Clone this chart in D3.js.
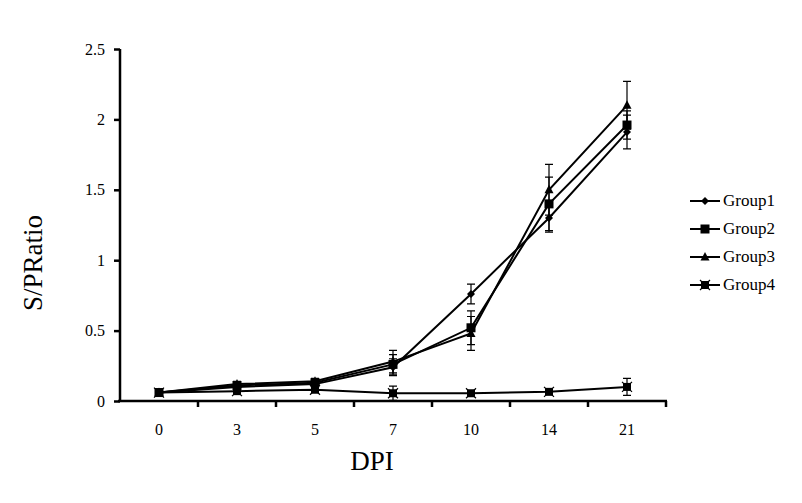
<!DOCTYPE html>
<html><head><meta charset="utf-8">
<script src="https://cdn.jsdelivr.net/npm/d3@7"></script>
<style>body{margin:0;background:#fff}svg{display:block}</style>
</head><body>
<svg id="c" width="802" height="503"></svg>
<script>
const categories = ["0","3","5","7","10","14","21"];
const yTicks = [0,0.5,1,1.5,2,2.5];
const seriesNames = ["Group1","Group2","Group3","Group4"];
const group1 = [0.06,0.10,0.12,0.24,0.76,1.30,1.91];
const group2 = [0.06,0.11,0.13,0.26,0.52,1.40,1.96];
const group3 = [0.06,0.12,0.14,0.28,0.48,1.50,2.10];
const group4 = [0.06,0.07,0.08,0.055,0.055,0.065,0.10];
const err1 = [0.01,0.02,0.02,0.06,0.07,0.10,0.12];
const err2 = [0.01,0.02,0.02,0.07,0.12,0.19,0.10];
const err3 = [0.01,0.02,0.02,0.08,0.12,0.18,0.17];
const err4 = [0.01,0.01,0.01,0.05,0.01,0.01,0.06];

const series = [
  {name:seriesNames[0], v:group1, e:err1, sym:"diamond"},
  {name:seriesNames[1], v:group2, e:err2, sym:"square"},
  {name:seriesNames[2], v:group3, e:err3, sym:"triangle"},
  {name:seriesNames[3], v:group4, e:err4, sym:"xsquare"}
];

const svg = d3.select("#c");
const x = d3.scaleBand().domain(categories).range([120,666]);
const y = d3.scaleLinear().domain([0,2.5]).range([401,49]);
const font = "'Liberation Serif','Times New Roman',serif";

// y axis
const ya = svg.append("g").attr("transform","translate(120,0)")
  .call(d3.axisLeft(y).tickValues(yTicks).tickSize(6).tickPadding(9).tickFormat(d=>d3.format("")(d)));
ya.select(".domain").attr("stroke","#000").attr("stroke-width",2.5).attr("d","M0,49V401");
ya.selectAll(".tick line").attr("stroke","#000").attr("stroke-width",2.5);
ya.selectAll("text").attr("font-family",font).attr("font-size",16).attr("fill","#000");

// x axis
const xa = svg.append("g").attr("transform","translate(0,401)");
xa.append("line").attr("x1",118).attr("x2",667).attr("y1",0).attr("y2",0).attr("stroke","#000").attr("stroke-width",2.5);
const bounds = categories.map(c=>x(c)+x.bandwidth());
xa.selectAll("line.t").data(bounds).join("line").attr("class","t")
  .attr("x1",d=>d).attr("x2",d=>d).attr("y1",0).attr("y2",6).attr("stroke","#000").attr("stroke-width",2.5);
xa.selectAll("text").data(categories).join("text")
  .attr("x",d=>x(d)+x.bandwidth()/2).attr("y",34).attr("text-anchor","middle")
  .attr("font-family",font).attr("font-size",16).text(d=>d);

// titles
svg.append("text").attr("transform","translate(42,263) rotate(-90)").attr("text-anchor","middle")
  .attr("font-family",font).attr("font-size",27).text("S/PRatio");
svg.append("text").attr("x",372).attr("y",470).attr("text-anchor","middle")
  .attr("font-family",font).attr("font-size",27).text("DPI");

const cx = c=>x(c)+x.bandwidth()/2;
const line = d3.line().x((d,i)=>cx(categories[i])).y(d=>y(d));

function drawSym(g, sym, px, py){
  if(sym==="diamond") g.append("path").attr("d",`M${px},${py-4}L${px+4},${py}L${px},${py+4}L${px-4},${py}Z`).attr("fill","#000");
  else if(sym==="square") g.append("rect").attr("x",px-4.5).attr("y",py-4.5).attr("width",9).attr("height",9).attr("fill","#000");
  else if(sym==="triangle") g.append("path").attr("d",`M${px},${py-5}L${px+4.5},${py+3.5}L${px-4.5},${py+3.5}Z`).attr("fill","#000");
  else { g.append("rect").attr("x",px-4).attr("y",py-4).attr("width",8).attr("height",8).attr("fill","#000");
         g.append("path").attr("d",`M${px-5},${py-5}L${px+5},${py+5}M${px+5},${py-5}L${px-5},${py+5}`).attr("stroke","#000").attr("stroke-width",1.2); }
}

series.forEach(s=>{
  const g = svg.append("g");
  s.v.forEach((v,i)=>{
    const px = cx(categories[i]);
    const t = y(v+s.e[i]), b = y(Math.max(0,v-s.e[i]));
    g.append("path").attr("d",`M${px},${t}V${b}M${px-4},${t}H${px+4}M${px-4},${b}H${px+4}`)
      .attr("stroke","#000").attr("stroke-width",1.2).attr("fill","none");
  });
  g.append("path").datum(s.v).attr("d",line).attr("fill","none").attr("stroke","#000").attr("stroke-width",2);
  s.v.forEach((v,i)=>drawSym(g,s.sym,cx(categories[i]),y(v)));
});

// legend
const lg = svg.append("g");
series.forEach((s,i)=>{
  const ly = 201 + i*28;
  lg.append("line").attr("x1",690).attr("x2",720).attr("y1",ly).attr("y2",ly).attr("stroke","#000").attr("stroke-width",2);
  drawSym(lg,s.sym,705,ly);
  lg.append("text").attr("x",723).attr("y",ly+5).attr("font-family",font).attr("font-size",17).text(s.name);
});
</script>
</body></html>
